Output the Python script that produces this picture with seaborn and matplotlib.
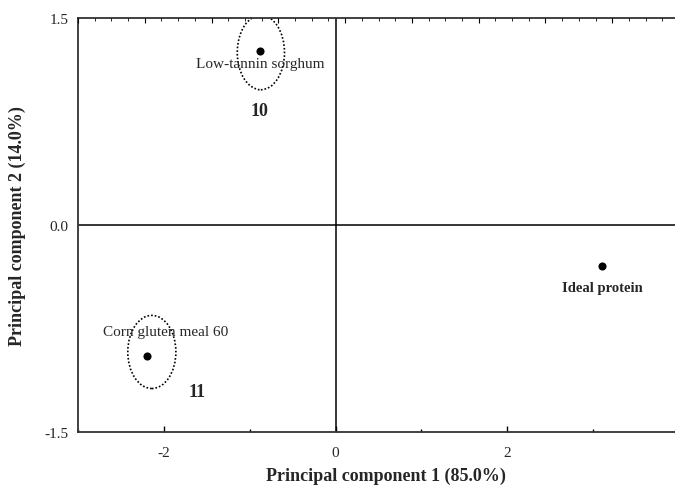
import matplotlib
matplotlib.use("Agg")
import matplotlib.pyplot as plt
from matplotlib.patches import Ellipse
from matplotlib.ticker import MultipleLocator
import seaborn as sns
import pandas as pd

# ---- data ----
names = ["Low-tannin sorghum", "Corn gluten meal 60", "Ideal protein"]
pc1 = [-0.88, -2.20, 3.10]
pc2 = [1.26, -0.95, -0.30]
cluster_ids = ["10", "11"]
cluster_cx = [-0.87, -2.14]
cluster_cy = [1.25, -0.92]
cluster_w = [0.55, 0.56]
cluster_h = [0.54, 0.53]
x_ticks = [-2, 0, 2, 4]
y_ticks = [-1.5, 0.0, 1.5]

df = pd.DataFrame({"pc1": pc1, "pc2": pc2, "name": names})

sns.set_style("white")
plt.rcParams["font.family"] = ["Liberation Serif", "DejaVu Serif"]

fig = plt.figure(figsize=(6.75, 4.89), dpi=100)
ax = fig.add_axes([78/675, 56/489, 601/675, 414/489])

ax.axhline(0, color="black", lw=1.1, zorder=1)
ax.axvline(0, color="black", lw=1.1, zorder=1)

sns.scatterplot(data=df, x="pc1", y="pc2", ax=ax, color="black", s=34,
                edgecolor="black", linewidth=0, zorder=3, legend=False)

for cx, cy, w, h in zip(cluster_cx, cluster_cy, cluster_w, cluster_h):
    ax.add_patch(Ellipse((cx, cy), w, h, fill=False, ls=(0, (1, 1.2)),
                         lw=1.2, ec="black", zorder=2))

label_off = [(0, -12), (19, 25), (1, -21)]
label_w = ["normal", "normal", "bold"]
label_fs = [11, 11, 10.5]
for x, y, n, off, fw, fs in zip(pc1, pc2, names, label_off, label_w, label_fs):
    ax.annotate(n, (x, y), xytext=off, textcoords="offset pixels",
                ha="center", va="center", fontsize=fs, fontweight=fw,
                zorder=4)

id_off = [(-1, -58), (45, -40)]
for cid, cx, cy, off in zip(cluster_ids, cluster_cx, cluster_cy, id_off):
    ax.annotate(cid, (cx, cy), xytext=off, textcoords="offset pixels",
                ha="center", va="center", fontsize=13, fontweight="bold")

ax.set_xlim(-3, 4)
ax.set_ylim(-1.5, 1.5)
ax.set_xticks(x_ticks)
ax.set_xticklabels([str(t) for t in x_ticks])
ax.xaxis.set_minor_locator(MultipleLocator(1))
ax.set_yticks(y_ticks)
ax.set_yticklabels([f"{t:.1f}" for t in y_ticks])
ax.yaxis.set_minor_locator(MultipleLocator(0.375))
ax.tick_params(axis="both", which="major", direction="in", length=4,
               width=1, labelsize=11, color="black")
ax.tick_params(axis="x", which="major", pad=10)
ax.tick_params(axis="y", which="major", pad=7)
ax.tick_params(axis="both", which="minor", direction="in", length=2.5,
               width=1, color="black")

for sp in ax.spines.values():
    sp.set_color("#333333")
    sp.set_linewidth(1.3)

ax2 = ax.twiny()
ax2.set_xlim(0, 9)
ax2.xaxis.set_major_locator(MultipleLocator(1))
ax2.xaxis.set_minor_locator(MultipleLocator(0.25))
ax2.tick_params(axis="x", which="major", direction="in", length=3.5,
                labeltop=False, color="black")
ax2.tick_params(axis="x", which="minor", direction="in", length=2,
                color="black")
for sp in ax2.spines.values():
    sp.set_visible(False)

ax.set_xlabel("Principal component 1 (85.0%)", fontsize=13,
              fontweight="bold")
ax.xaxis.set_label_coords((386 - 78) / 601, -(476 - 433) / 414)
ax.xaxis.label.set_va("center")
ax.set_ylabel("Principal component 2 (14.0%)", fontsize=13,
              fontweight="bold", labelpad=13)

fig.savefig("out.png", dpi=100)
